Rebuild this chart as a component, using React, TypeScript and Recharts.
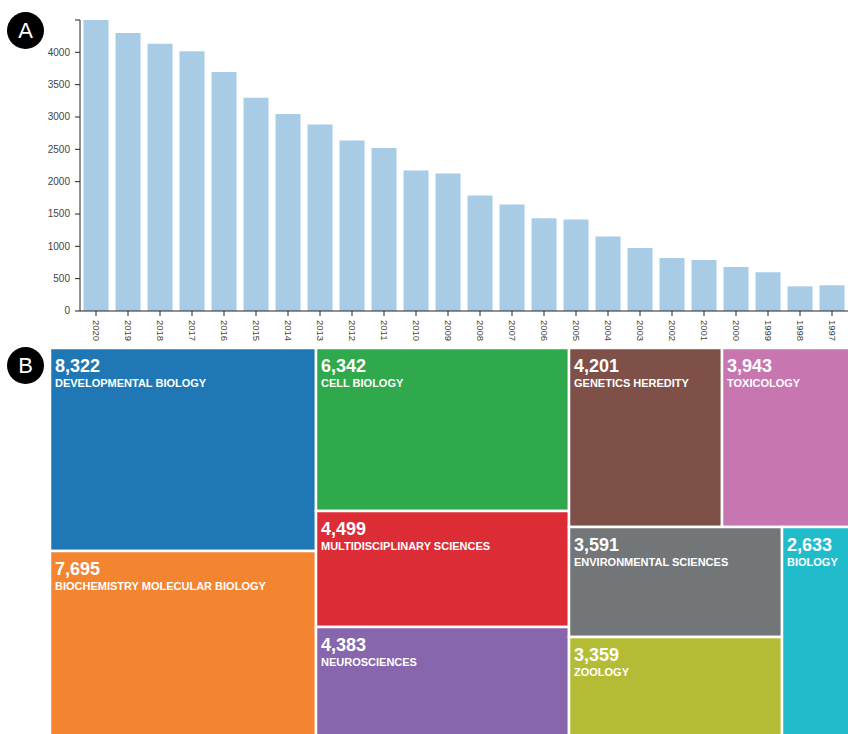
import React from 'react';
import { BarChart, Bar, XAxis, YAxis, Treemap } from 'recharts';

const years = ['2020', '2019', '2018', '2017', '2016', '2015', '2014', '2013', '2012', '2011', '2010', '2009', '2008', '2007', '2006', '2005', '2004', '2003', '2002', '2001', '2000', '1999', '1998', '1997'];
const counts = [4530, 4300, 4134, 4015, 3696, 3298, 3045, 2885, 2637, 2519, 2173, 2126, 1786, 1646, 1435, 1414, 1151, 976, 821, 790, 681, 599, 382, 398];
const yTicks = [0, 500, 1000, 1500, 2000, 2500, 3000, 3500, 4000, 4500];

const categories = ['DEVELOPMENTAL BIOLOGY', 'BIOCHEMISTRY MOLECULAR BIOLOGY', 'CELL BIOLOGY', 'MULTIDISCIPLINARY SCIENCES', 'NEUROSCIENCES', 'GENETICS HEREDITY', 'TOXICOLOGY', 'ENVIRONMENTAL SCIENCES', 'ZOOLOGY', 'BIOLOGY'];
const records = [8322, 7695, 6342, 4499, 4383, 4201, 3943, 3591, 3359, 2633];
const cellColors = ['#1f78b5', '#f38430', '#2fa94b', '#dc2c36', '#8766ad', '#7e5048', '#c876b0', '#737679', '#b4bc36', '#21bccc'];

const barData = years.map((year, i) => ({ year, count: counts[i] }));
const treeData = categories.map((name, i) => ({ name, size: records[i], color: cellColors[i] }));

const FONT = '"Liberation Sans", Arial, sans-serif';

const YearTick = (props: any) => {
  const { x, y, payload } = props;
  return (
    <text
      transform={`translate(${x},${y + 2}) rotate(90)`}
      textAnchor="start"
      dy="0.32em"
      fontSize={9.5}
      fontFamily={FONT}
      fill="#444"
    >
      {payload.value}
    </text>
  );
};

const CountTick = (props: any) => {
  const { x, y, payload } = props;
  if (payload.value === 4500) return null;
  return (
    <text x={x - 3} y={y} dy="0.32em" textAnchor="end" fontSize={10} fontFamily={FONT} fill="#444">
      {payload.value}
    </text>
  );
};

const Cell = (props: any) => {
  const { x, y, width, height, depth, name, size, color } = props;
  if (depth !== 1) return null;
  return (
    <g>
      <rect x={x} y={y} width={width} height={height} fill={color} stroke="#fff" strokeWidth={2.5} />
      <text x={x + 5} y={y + 24} fill="#fff" fontSize={18} fontWeight="bold" fontFamily={FONT}>
        {Number(size).toLocaleString('en-US')}
      </text>
      <text x={x + 5} y={y + 39} fill="#fff" fontSize={11} fontWeight="bold" fontFamily={FONT}>
        {name}
      </text>
    </g>
  );
};

const Badge = ({ label, top }: { label: string; top: number }) => (
  <div
    style={{
      position: 'absolute',
      left: 7,
      top,
      width: 37,
      height: 37,
      borderRadius: '50%',
      background: '#000',
      color: '#fff',
      fontFamily: FONT,
      fontSize: 22,
      lineHeight: '37px',
      textAlign: 'center',
    }}
  >
    {label}
  </div>
);

export default function App() {
  return (
    <div style={{ position: 'absolute', left: 0, top: 0, width: 848, height: 734, overflow: 'hidden', background: '#fff' }}>
      <div style={{ position: 'absolute', left: 0, top: 0 }}>
        <BarChart width={848} height={345} data={barData} margin={{ top: 20, right: 0, left: 0, bottom: 0 }} barCategoryGap="11%">
          <XAxis
            dataKey="year"
            height={34}
            interval={0}
            tick={<YearTick />}
            tickSize={5}
            axisLine={{ stroke: '#222' }}
            tickLine={{ stroke: '#222' }}
          />
          <YAxis
            width={80}
            domain={[0, 4500]}
            allowDataOverflow
            ticks={yTicks}
            interval={0}
            tick={<CountTick />}
            tickSize={5}
            axisLine={{ stroke: '#222' }}
            tickLine={{ stroke: '#222' }}
          />
          <Bar dataKey="count" fill="#a8cbe6" isAnimationActive={false} />
        </BarChart>
      </div>
      <div style={{ position: 'absolute', left: 50, top: 348 }}>
        <Treemap
          width={814}
          height={391}
          data={treeData}
          dataKey="size"
          nameKey="name"
          content={<Cell />}
          isAnimationActive={false}
        />
      </div>
      <Badge label="A" top={12} />
      <Badge label="B" top={347} />
    </div>
  );
}
